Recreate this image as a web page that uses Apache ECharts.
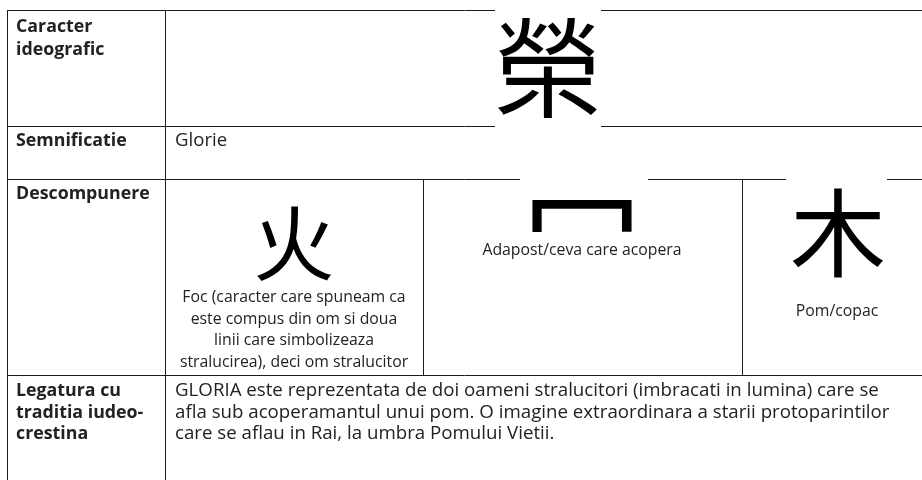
<!DOCTYPE html>
<html><head><meta charset="utf-8">
<script src="https://cdn.jsdelivr.net/npm/echarts@6/dist/echarts.min.js"></script>
<style>html,body{margin:0;padding:0;background:#fff}#c{width:922px;height:480px}</style>
</head><body><div id="c"></div>
<script>
// ---- content ----
var rowLabels = [["Caracter", "ideografic"], ["Semnificatie"], ["Descompunere"], ["Legatura cu", "traditia iudeo-", "crestina"]];
var mainChar = "榮";
var meaning = "Glorie";
var partChars = ["火", "冖", "木"];
var partCaptions = [
  ["Foc (caracter care spuneam ca", "este compus din om si doua", "linii care simbolizeaza", "stralucirea), deci om stralucitor"],
  ["Adapost/ceva care acopera"],
  ["Pom/copac"]
];
var linkText = [
  "GLORIA este reprezentata de doi oameni stralucitori (imbracati in lumina) care se",
  "afla sub acoperamantul unui pom. O imagine extraordinara a starii protoparintilor",
  "care se aflau in Rai, la umbra Pomului Vietii."
];

// ---- layout ----
var LINE = '#1c1c1c', TXT = '#222';
var FONT = '"Open Sans", sans-serif';
var CJK = '"Noto Sans CJK TC", "Noto Sans CJK SC", sans-serif';
var L = 7, C1 = 165, R = 922;
var rowY = [10, 126, 179, 375];
var subCols = [C1, 423, 742, R];

var g = [];
function hline(y, x1, x2) { g.push({type:'line', shape:{x1:x1,y1:y,x2:x2,y2:y}, style:{stroke:LINE, lineWidth:1}}); }
function vline(x, y1, y2) { g.push({type:'line', shape:{x1:x,y1:y1,x2:x,y2:y2}, style:{stroke:LINE, lineWidth:1}}); }
function text(str, x, baseline, size, weight, align) {
  g.push({type:'text', x:x, y:baseline + 0.19 * size, style:{text:str, fill:TXT, font:(weight||'normal')+' '+size+'px '+FONT, textAlign:align||'left', textVerticalAlign:'bottom'}});
}
function glyph(ch, cx, cy, size) {
  g.push({type:'text', x:cx, y:cy, style:{text:ch, fill:'#000', font:'normal '+size+'px '+CJK, textAlign:'center', textVerticalAlign:'middle'}});
}
function white(x, y, w, h) { g.push({type:'rect', shape:{x:x,y:y,width:w,height:h}, style:{fill:'#fff'}}); }

// grid lines
rowY.forEach(function(y){ hline(y + 0.5, L, R); });
vline(L + 0.5, rowY[0], 480);
vline(C1 + 0.5, rowY[0], 480);
vline(subCols[1] + 0.5, rowY[2], rowY[3]);
vline(subCols[2] + 0.5, rowY[2], rowY[3]);

// image backgrounds covering lines
white(495, 0, 106, 132);
white(520, 172, 128, 14);
white(786, 172, 101, 14);

// row labels (bold)
var labelBase = [[33, 56], [147], [200], [397, 419, 440]];
rowLabels.forEach(function(lines, i){
  lines.forEach(function(s, j){ text(s, 16, labelBase[i][j], 17.8, 'bold'); });
});

// main char
glyph(mainChar, 548, 68, 108);
// meaning
text(meaning, 175, 147, 18.6);

// components
glyph(partChars[0], 294, 243, 82);
glyph(partChars[1], 582, 222, 120);
glyph(partChars[2], 838, 233, 96);

var capBase = [[302, 324, 345, 367], [255], [316]];
var capX = [294, 582, 837];
partCaptions.forEach(function(lines, i){
  lines.forEach(function(s, j){ text(s, capX[i], capBase[i][j], 15.8, 'normal', 'center'); });
});

// link text
var linkBase = [397, 419, 440];
linkText.forEach(function(s, j){ text(s, 175, linkBase[j], 18.7); });

var chart = echarts.init(document.getElementById('c'), null, {renderer:'canvas'});
chart.setOption({animation:false, backgroundColor:'#fff', graphic:{elements:g}});
</script></body></html>
